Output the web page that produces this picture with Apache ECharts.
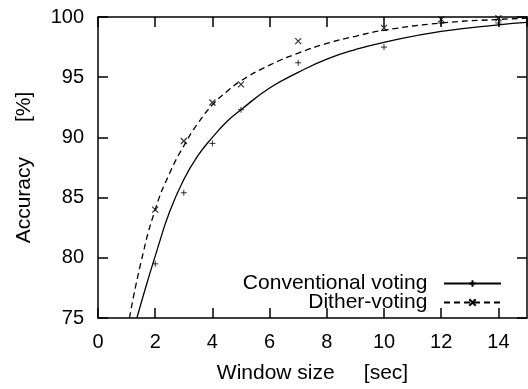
<!DOCTYPE html>
<html>
<head>
<meta charset="utf-8">
<title>Accuracy vs window size</title>
<script src="https://cdn.jsdelivr.net/npm/echarts@6/dist/echarts.min.js"></script>
<style>
  html, body { margin: 0; padding: 0; background: #fff; }
  #chart { width: 528px; height: 389px; }
</style>
</head>
<body>
<div id="chart"></div>
<script>
  // measured points (window size in sec, accuracy in %)
  const windowSizes = [2, 3, 4, 5, 7, 10, 12, 14];
  const conventionalPts = [79.5, 85.4, 89.5, 92.3, 96.2, 97.5, 99.5, 99.5];
  const ditherPts = [84.0, 89.7, 92.9, 94.4, 98.0, 99.1, 99.8, 99.9];

  // fitted curves
  const conventionalCurve = [
    [1.36, 75], [1.7, 77.8], [2.06, 80.6], [2.5, 83.8], [3.0, 86.5],
    [3.5, 88.5], [4.0, 90.0], [4.5, 91.3], [5.0, 92.3], [6.0, 94.1],
    [7.0, 95.4], [8.0, 96.5], [9.0, 97.3], [10.0, 97.9], [12.0, 98.8],
    [14.0, 99.35], [15, 99.55]
  ];
  const ditherCurve = [
    [1.1, 75], [1.5, 79.6], [2.0, 84.0], [2.5, 87.0], [3.0, 89.3],
    [3.5, 91.2], [4.0, 92.7], [4.5, 93.8], [5.0, 94.7], [6.0, 96.0],
    [7.0, 97.0], [8.0, 97.8], [9.0, 98.4], [10.0, 98.9], [12.0, 99.5],
    [14.0, 99.8], [15, 99.9]
  ];

  const xTicks = { min: 0, max: 15, step: 2 };
  const yTicks = { min: 75, max: 100, step: 5 };

  const FONT = "'Liberation Sans', Arial, Helvetica, sans-serif";
  const PLUS = 'path://M0,5L10,5M5,0L5,10';
  const CROSS = 'path://M0,0L10,10M10,0L0,10';

  const frameLine = { show: true, onZero: false, lineStyle: { color: '#000', width: 1.5 } };
  const tickIn = { show: true, inside: true, length: 10, lineStyle: { color: '#000', width: 1.5 } };
  const labelStyle = { color: '#000', fontSize: 20, fontFamily: FONT };
  const nameStyle = { color: '#000', fontSize: 21, fontFamily: FONT };

  const chart = echarts.init(document.getElementById('chart'));

  function pairs(xs, ys) {
    return xs.map((x, i) => [x, ys[i]]);
  }

  const legendBase = {
    orient: 'horizontal',
    right: 26,
    align: 'right',
    itemWidth: 57,
    itemHeight: 8,
    selectedMode: false,
    padding: 0,
    formatter: name => name + '  ',
    textStyle: { color: '#000', fontSize: 21, fontFamily: FONT }
  };

  chart.setOption({
    animation: false,
    grid: { left: 98, right: 1, top: 17, bottom: 65 },
    legend: [
      Object.assign({}, legendBase, { top: 273, data: ['Conventional voting'] }),
      Object.assign({}, legendBase, { top: 292, data: ['Dither-voting'] })
    ],
    xAxis: [{
      type: 'value',
      min: xTicks.min, max: xTicks.max, interval: xTicks.step,
      axisLine: frameLine,
      axisTick: tickIn,
      axisLabel: Object.assign({ margin: 14, showMaxLabel: false }, labelStyle),
      splitLine: { show: false },
      name: 'Window size     [sec]',
      nameLocation: 'middle',
      nameGap: 45,
      nameTextStyle: nameStyle
    }, {
      type: 'value',
      position: 'top',
      min: xTicks.min, max: xTicks.max, interval: xTicks.step,
      axisLine: frameLine,
      axisTick: tickIn,
      axisLabel: { show: false },
      splitLine: { show: false }
    }],
    yAxis: [{
      type: 'value',
      min: yTicks.min, max: yTicks.max, interval: yTicks.step,
      axisLine: frameLine,
      axisTick: tickIn,
      axisLabel: Object.assign({ margin: 14 }, labelStyle),
      splitLine: { show: false },
      name: 'Accuracy      [%]',
      nameLocation: 'middle',
      nameGap: 63,
      nameTextStyle: nameStyle
    }, {
      type: 'value',
      position: 'right',
      min: yTicks.min, max: yTicks.max, interval: yTicks.step,
      axisLine: frameLine,
      axisTick: tickIn,
      axisLabel: { show: false },
      splitLine: { show: false }
    }],
    series: [{
      name: 'Conventional voting',
      type: 'line',
      data: conventionalCurve,
      smooth: 0.5,
      showSymbol: false,
      symbol: PLUS,
      itemStyle: { color: '#000', borderColor: '#000', borderWidth: 1 },
      lineStyle: { color: '#000', width: 1.3, type: 'solid' }
    }, {
      name: 'Dither-voting',
      type: 'line',
      data: ditherCurve,
      smooth: 0.5,
      showSymbol: false,
      symbol: CROSS,
      itemStyle: { color: '#000', borderColor: '#000', borderWidth: 1 },
      lineStyle: { color: '#000', width: 1.3, type: [6, 4] }
    }, {
      name: 'conventional-points',
      type: 'scatter',
      data: pairs(windowSizes, conventionalPts),
      symbol: PLUS,
      symbolSize: 6,
      itemStyle: { color: '#000', borderColor: '#000', borderWidth: 1 }
    }, {
      name: 'dither-points',
      type: 'scatter',
      data: pairs(windowSizes, ditherPts),
      symbol: CROSS,
      symbolSize: 6,
      itemStyle: { color: '#000', borderColor: '#000', borderWidth: 1.2 }
    }]
  });
</script>
</body>
</html>
